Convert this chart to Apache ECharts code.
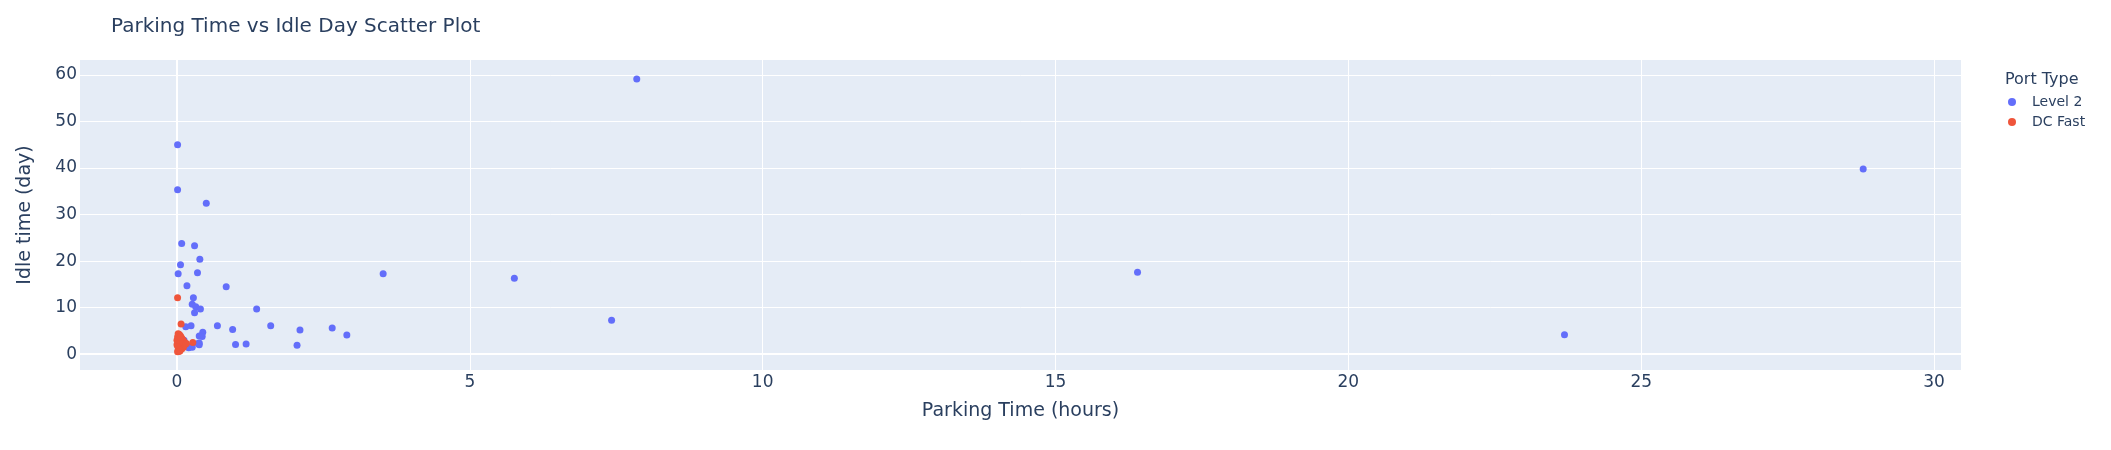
<!DOCTYPE html>
<html lang="en" style="height: 100%">
<head>
  <meta charset="utf-8">
  <title>Parking Time vs Idle Day Scatter Plot</title>
</head>
<body style="height: 100%; margin: 0">
  <div id="container" style="height: 100%"></div>

  <script type="text/javascript" src="https://cdn.jsdelivr.net/npm/echarts@6/dist/echarts.min.js"></script>

  <script type="text/javascript">
    var dom = document.getElementById('container');
    var myChart = echarts.init(dom, null, { renderer: 'canvas' });

    // [parking time (hours), idle time (day)]
    const level2Data = [
      [0.01, 45.0], [0.01, 35.3], [0.50, 32.4], [0.08, 23.8], [0.30, 23.3],
      [0.39, 20.4], [0.06, 19.2], [0.02, 17.3], [0.35, 17.5], [0.17, 14.7],
      [0.84, 14.5], [0.28, 12.1], [0.26, 10.7], [0.32, 10.2], [0.40, 9.7],
      [0.30, 8.9], [1.36, 9.7], [0.15, 5.9], [0.24, 6.1], [0.69, 6.1],
      [1.60, 6.1], [0.95, 5.3], [0.44, 4.7], [0.38, 3.9], [0.43, 3.8],
      [0.12, 3.0], [0.38, 2.4], [0.38, 2.0], [1.00, 2.1], [1.18, 2.2],
      [0.20, 1.4], [0.26, 1.5], [0.22, 1.6], [0.36, 2.3], [2.05, 1.9],
      [2.10, 5.2], [2.65, 5.6], [2.90, 4.1], [3.52, 17.3], [5.76, 16.3],
      [7.42, 7.3], [7.85, 59.1], [16.40, 17.6], [23.69, 4.15], [28.79, 39.8]
    ];
    const dcFastData = [
      [0.01, 12.1], [0.07, 6.5], [0.27, 2.5], [0.02, 4.4], [0.04, 4.2],
      [0.06, 3.9], [0.01, 3.7], [0.08, 3.5], [0.03, 3.3], [0.10, 3.1],
      [0.05, 2.9], [0.12, 2.7], [0.02, 2.6], [0.07, 2.4], [0.14, 2.2],
      [0.04, 2.1], [0.09, 1.9], [0.01, 1.8], [0.06, 1.6], [0.11, 1.5],
      [0.03, 1.3], [0.08, 1.1], [0.02, 0.9], [0.05, 0.7], [0.01, 0.5],
      [0.04, 1.0], [0.00, 2.0], [0.00, 3.0], [0.13, 2.0], [0.10, 2.6],
      [0.03, 0.6], [0.06, 3.6], [0.16, 2.3]
    ];
    const seriesNames = ['Level 2', 'DC Fast'];

    const ink = '#2a3f5f';
    const font = 'DejaVu Sans';

    var option = {
      textStyle: { fontFamily: font },
      title: [
        {
          text: 'Parking Time vs Idle Day Scatter Plot',
          left: 106,
          top: 12,
          textStyle: { fontFamily: font, fontSize: 20, fontWeight: 'normal', color: ink }
        },
        {
          text: 'Port Type',
          left: 2000,
          top: 67,
          textStyle: { fontFamily: font, fontSize: 16, fontWeight: 'normal', color: ink }
        }
      ],
      legend: {
        data: seriesNames,
        orient: 'vertical',
        left: 2003,
        top: 90,
        icon: 'circle',
        itemWidth: 30,
        itemHeight: 8,
        itemGap: 6,
        textStyle: { fontFamily: font, fontSize: 14, color: ink }
      },
      grid: {
        left: 80,
        right: 150,
        top: 60,
        bottom: 80,
        show: true,
        backgroundColor: '#E5ECF6',
        borderWidth: 0
      },
      xAxis: {
        type: 'value',
        min: -1.656,
        max: 30.46,
        splitNumber: 5,
        name: 'Parking Time (hours)',
        nameLocation: 'middle',
        nameGap: 32,
        nameTextStyle: { fontFamily: font, fontSize: 19, color: ink },
        axisLine: { show: false, onZero: false },
        axisTick: { show: false },
        axisLabel: { fontFamily: font, fontSize: 17, color: ink, margin: 4, showMinLabel: false, showMaxLabel: false },
        splitLine: { show: true, showMinLine: false, showMaxLine: false, lineStyle: { color: '#ffffff', width: 1 } }
      },
      yAxis: {
        type: 'value',
        min: -3.4,
        max: 63.2,
        splitNumber: 5,
        name: 'Idle time (day)',
        nameLocation: 'middle',
        nameGap: 45,
        nameTextStyle: { fontFamily: font, fontSize: 19, color: ink },
        axisLine: { show: false, onZero: false },
        axisTick: { show: false },
        axisLabel: { fontFamily: font, fontSize: 17, color: ink, margin: 3, showMinLabel: false, showMaxLabel: false },
        splitLine: { show: true, showMinLine: false, showMaxLine: false, lineStyle: { color: '#ffffff', width: 1 } }
      },
      series: [
        {
          // zero lines, kept under the points
          type: 'scatter',
          data: [],
          silent: true,
          z: 1,
          markLine: {
            silent: true,
            z: 1,
            symbol: 'none',
            label: { show: false },
            lineStyle: { color: '#ffffff', width: 2, type: 'solid' },
            data: [{ xAxis: 0 }, { yAxis: 0 }]
          }
        },
        {
          name: seriesNames[0],
          type: 'scatter',
          z: 3,
          symbolSize: 7,
          itemStyle: { color: '#636efa', opacity: 1 },
          data: level2Data
        },
        {
          name: seriesNames[1],
          type: 'scatter',
          z: 4,
          symbolSize: 7,
          itemStyle: { color: '#EF553B', opacity: 1 },
          data: dcFastData
        }
      ]
    };

    myChart.setOption(option);
    window.addEventListener('resize', myChart.resize);
  </script>
</body>
</html>
